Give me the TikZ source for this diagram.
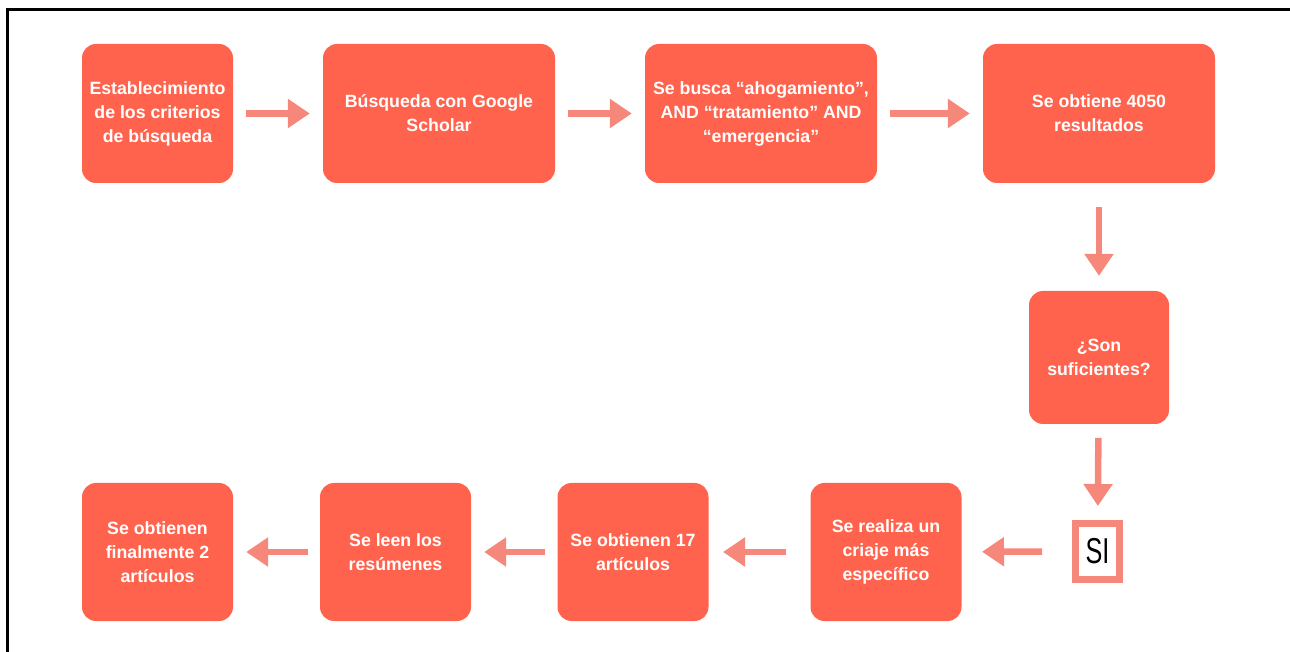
\documentclass[tikz,border=0pt]{standalone}
\usepackage{fontspec}
\setmainfont{Liberation Sans}
\usetikzlibrary{arrows.meta}
\definecolor{boxred}{RGB}{255,99,77}
\definecolor{arrowred}{RGB}{245,136,122}
\tikzset{every picture/.style={line width=0.75pt}}

\begin{document}
\begin{tikzpicture}[x=0.75pt,y=0.75pt,yscale=-1,xscale=1,
	paso/.style={fill=boxred, rounded corners=10.5pt, text=white, align=center, inner sep=2pt,
		font=\bfseries\fontsize{13.3}{18}\selectfont, minimum width=113.25pt, minimum height=104.25pt},
	pasoancho/.style={paso, minimum width=174pt},
	flecha/.style={draw=arrowred, line width=4.9pt, -{Triangle[length=16.5pt,width=21pt]},
		shorten <=9pt, shorten >=9.5pt}]
	\useasboundingbox (0,0) rectangle (1290,652);

	%Frame (top and left edge)
	\draw [line width=2.25pt] (1290,9.5) -- (7,9.5) -- (7,652) ;

	%Top row
	\node [paso] (criterios) at (157.5,113.5) {Establecimiento\\de los criterios\\de búsqueda};
	\node [pasoancho] (google) at (439,113.5) {Búsqueda con Google\\Scholar};
	\node [pasoancho] (busca) at (761,113.5) {Se busca “ahogamiento”,\\AND “tratamiento” AND\\“emergencia”};
	\node [pasoancho] (resultados) at (1099,113.5) {Se obtiene 4050\\resultados};

	%Right column
	\node [paso, minimum width=105pt, minimum height=99.75pt] (suficientes) at (1099,357.5) {¿Son\\suficientes?};
	\node [draw=arrowred, line width=5.25pt, fill=white, inner sep=0pt, minimum width=33pt, minimum height=42pt,
		font=\fontsize{27}{30}\selectfont] (si) at (1097.5,551.5) {\scalebox{0.7}[1]{SI}};

	%Bottom row
	\node [paso, minimum height=103.5pt] (criaje) at (886,552) {Se realiza un\\criaje más\\específico};
	\node [paso, minimum height=103.5pt] (diecisiete) at (633,552) {Se obtienen 17\\artículos};
	\node [paso, minimum height=103.5pt] (resumenes) at (395.5,552) {Se leen los\\resúmenes};
	\node [paso, minimum height=103.5pt] (final) at (157.5,552) {Se obtienen\\finalmente 2\\artículos};

	%Arrows
	\draw [flecha] (criterios) -- (google);
	\draw [flecha] (google) -- (busca);
	\draw [flecha] (busca) -- (resultados);
	\draw [flecha, shorten <=18pt, shorten >=11pt] (resultados) -- (suficientes);
	\draw [flecha, shorten <=10pt, shorten >=10.5pt] (suficientes) -- (si);
	\draw [flecha, shorten <=22.5pt, shorten >=15pt] (si) -- (criaje);
	\draw [flecha, shorten <=18pt, shorten >=10.5pt] (criaje) -- (diecisiete);
	\draw [flecha] (diecisiete) -- (resumenes);
	\draw [flecha] (resumenes) -- (final);

\end{tikzpicture}
\end{document}
